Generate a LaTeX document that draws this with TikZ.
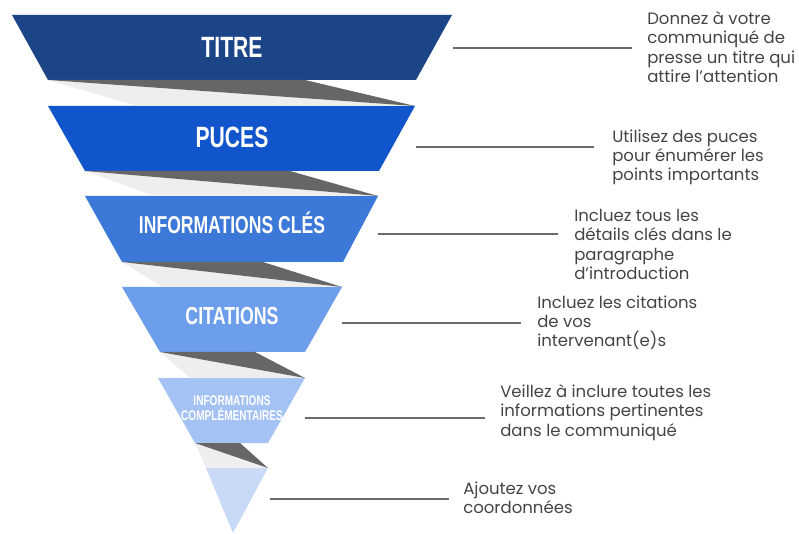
\documentclass[tikz,border=0pt]{standalone}
\usepackage{fontspec}
\setmainfont{Poppins}
\newfontfamily\tierfont[FakeStretch=0.72]{Liberation Sans}

\definecolor{tierA}{HTML}{1C4587}
\definecolor{tierB}{HTML}{1155CC}
\definecolor{tierC}{HTML}{3C78D8}
\definecolor{tierD}{HTML}{6D9EEB}
\definecolor{tierE}{HTML}{A4C2F4}
\definecolor{tierF}{HTML}{C9DAF8}
\definecolor{folddark}{HTML}{666666}
\definecolor{foldlight}{HTML}{EEEEEE}
\definecolor{leadgray}{HTML}{6B6B6B}
\definecolor{notegray}{HTML}{444444}

\begin{document}
\begin{tikzpicture}[x=0.75pt, y=-0.75pt,
    tier/.style={text=white, font=\tierfont\bfseries\fontsize{22}{24}\selectfont, inner sep=0pt, anchor=base},
    note/.style={text=notegray, font=\fontsize{12.4}{14.6}\selectfont, align=left, anchor=base west, inner sep=0pt},
    lead/.style={draw=leadgray, line width=1.1pt}]
       \useasboundingbox (0, 0) rectangle (799, 534);
       % funnel layers
       \fill [tierA] (12, 15) -- (452, 15) -- (416, 80) -- (48, 80) -- cycle;
       \fill [tierB] (48, 106) -- (415, 106) -- (379, 171) -- (85, 171) -- cycle;
       \fill [tierC] (85, 196) -- (378, 196) -- (343, 262) -- (122, 262) -- cycle;
       \fill [tierD] (122, 287) -- (342, 287) -- (305, 352) -- (160, 352) -- cycle;
       \fill [tierE] (158, 378) -- (305, 378) -- (268, 443) -- (195, 443) -- cycle;
       \fill [tierF] (206, 468) -- (268, 468) -- (233, 533) -- cycle;
       % folds
       \fill [foldlight] (48, 80) -- (415, 106) -- (137, 106) -- cycle;
       \fill [folddark] (48, 80) -- (305, 80) -- (415, 106) -- cycle;
       \fill [foldlight] (85, 171) -- (378, 196) -- (155, 196) -- cycle;
       \fill [folddark] (85, 171) -- (290, 171) -- (378, 196) -- cycle;
       \fill [foldlight] (122, 262) -- (342, 287) -- (162, 287) -- cycle;
       \fill [folddark] (122, 262) -- (263, 262) -- (342, 287) -- cycle;
       \fill [foldlight] (160, 352) -- (305, 378) -- (190, 378) -- cycle;
       \fill [folddark] (160, 352) -- (255, 352) -- (305, 378) -- cycle;
       \fill [foldlight] (195, 443) -- (268, 468) -- (206, 468) -- cycle;
       \fill [folddark] (195, 443) -- (240, 443) -- (268, 468) -- cycle;
       % layer titles (base = last line)
       \node [tier] (titre) at (232, 58) {TITRE};
       \node [tier] (puces) at (232, 148) {PUCES};
       \node [tier, font=\tierfont\bfseries\fontsize{18.3}{20}\selectfont] (cles) at (232, 234) {INFORMATIONS CLÉS};
       \node [tier, font=\tierfont\bfseries\fontsize{18.5}{20}\selectfont] (citations) at (232, 325) {CITATIONS};
       \node [tier, align=center, font=\tierfont\bfseries\fontsize{10.5}{11.25}\selectfont] (complements) at (232, 420) {INFORMATIONS\\COMPLÉMENTAIRES};
       % notes
       \node [note] (noteTitre) at (647, 82.5) {Donnez à votre\\communiqué de\\presse un titre qui\\attire l’attention};
       \node [note] (notePuces) at (612, 181) {Utilisez des puces\\pour énumérer les\\points importants};
       \node [note] (noteCles) at (574, 279.5) {Incluez tous les\\détails clés dans le\\paragraphe\\d’introduction};
       \node [note] (noteCitations) at (537, 347) {Incluez les citations\\de vos\\intervenant(e)s};
       \node [note] (noteComplements) at (500, 436) {Veillez à inclure toutes les\\informations pertinentes\\dans le communiqué};
       \node [note] (noteContact) at (463, 513.5) {Ajoutez vos\\coordonnées};
       % leader lines
       \coordinate (titreA) at (453, 48);
       \coordinate (titreB) at (632, 48);
       \coordinate (pucesA) at (416, 147);
       \coordinate (pucesB) at (594, 147);
       \coordinate (clesA) at (378, 234);
       \coordinate (clesB) at (558, 234);
       \coordinate (citationsA) at (342, 323);
       \coordinate (citationsB) at (521, 323);
       \coordinate (complementsA) at (305, 418);
       \coordinate (complementsB) at (485, 418);
       \coordinate (contactA) at (270, 499);
       \coordinate (contactB) at (449, 499);
       \draw [lead] (titreA) -- (titreB);
       \draw [lead] (pucesA) -- (pucesB);
       \draw [lead] (clesA) -- (clesB);
       \draw [lead] (citationsA) -- (citationsB);
       \draw [lead] (complementsA) -- (complementsB);
       \draw [lead] (contactA) -- (contactB);
   \end{tikzpicture}
\end{document}
